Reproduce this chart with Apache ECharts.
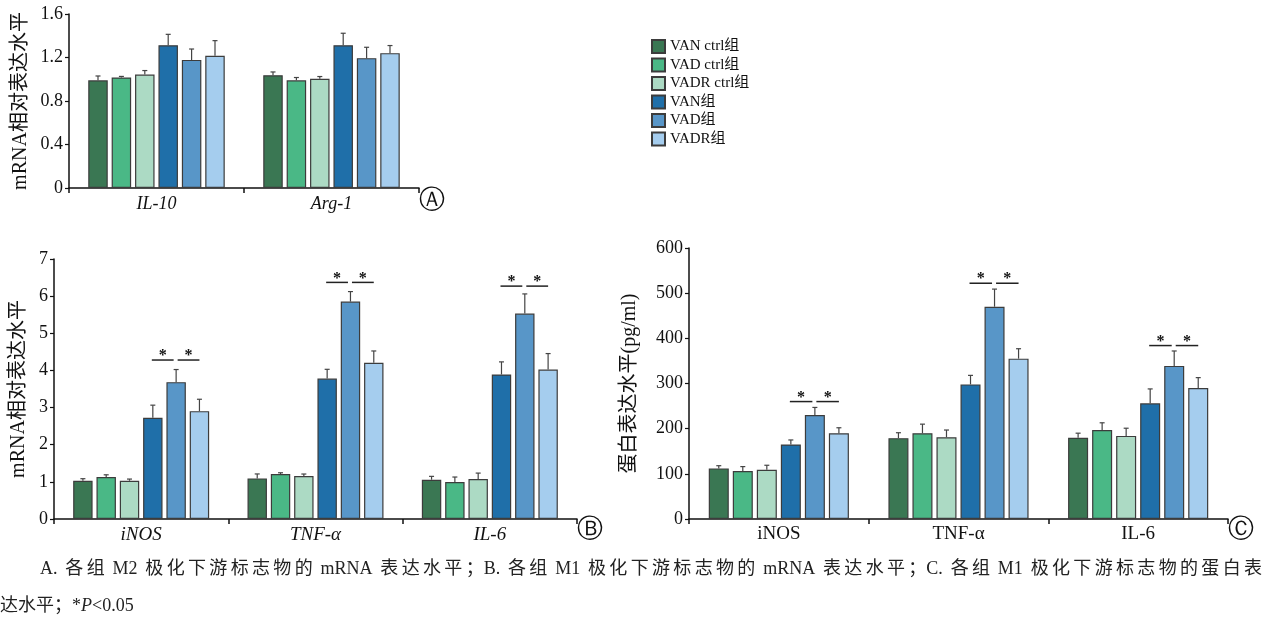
<!DOCTYPE html>
<html lang="zh">
<head>
<meta charset="utf-8">
<script src="https://cdn.jsdelivr.net/npm/echarts@6/dist/echarts.min.js"></script>
<style>
html,body{margin:0;padding:0;background:#fff;}
#chart{position:absolute;left:0;top:0;width:1264px;height:620px;}
.cap{position:absolute;font-family:'Liberation Serif','Noto Sans CJK SC',serif;font-size:18px;line-height:20px;color:#222;}
#cap1{left:40px;top:558px;width:1222px;text-align:justify;text-align-last:justify;}
#cap2{left:0;top:595px;white-space:nowrap;}
</style>
</head>
<body>
<div id="chart"></div>
<div class="cap" id="cap1">A.&#8197;各组&#8197;M2&#8197;极化下游标志物的&#8197;mRNA&#8197;表达水平；B.&#8197;各组&#8197;M1&#8197;极化下游标志物的&#8197;mRNA&#8197;表达水平；C.&#8197;各组&#8197;M1&#8197;极化下游标志物的蛋白表</div>
<div class="cap" id="cap2">达水平；*<i>P</i>&lt;0.05</div>
<script>
// ---------- data ----------
const groups = ['VAN ctrl组', 'VAD ctrl组', 'VADR ctrl组', 'VAN组', 'VAD组', 'VADR组'];

const catsA = ['IL-10', 'Arg-1'];
const meanA = [
  [0.99, 1.037],
  [1.016, 0.99],
  [1.043, 1.004],
  [1.313, 1.313],
  [1.178, 1.194],
  [1.215, 1.24]
];
const sdA = [
  [0.04, 0.03],
  [0.01, 0.026],
  [0.037, 0.021],
  [0.10, 0.11],
  [0.10, 0.10],
  [0.14, 0.07]
];

const catsB = ['iNOS', 'TNF-α', 'IL-6'];
const meanB = [
  [1.03, 1.093, 1.058],
  [1.13, 1.21, 0.995],
  [1.03, 1.156, 1.076],
  [2.725, 3.78, 3.89],
  [3.684, 5.853, 5.53],
  [2.904, 4.204, 4.024]
];
const sdB = [
  [0.055, 0.12, 0.09],
  [0.06, 0.035, 0.135],
  [0.045, 0.055, 0.16],
  [0.34, 0.25, 0.34],
  [0.34, 0.27, 0.53],
  [0.32, 0.32, 0.43]
];
const sigB = [4.28, 6.37, 6.27];

const catsC = ['iNOS', 'TNF-α', 'IL-6'];
const meanC = [
  [112, 179, 180],
  [106, 190, 197],
  [109, 181, 184],
  [165, 298, 256],
  [230, 470, 339],
  [190, 355, 290]
];
const sdC = [
  [6, 12, 10],
  [10, 20, 16],
  [10, 16, 17],
  [10, 20, 32],
  [17, 39, 33],
  [12, 22, 23]
];
const sigC = [260, 522, 384];

const yNameA = 'mRNA相对表达水平';
const yNameB = 'mRNA相对表达水平';
const yNameC = '蛋白表达水平(pg/ml)';

// ---------- style ----------
const COLORS = ['#3a7753', '#4ab886', '#acdac4', '#1f6fa9', '#5896c8', '#a5cdee'];
const FONT = "'Liberation Serif','Noto Sans CJK SC',serif";
const INK = '#111';
const CAT_GAP = 0.22, BAR_GAP = 0.20, N = groups.length;

function barX(api, cat, g) {
  const band = api.size([1, 0])[0];
  const bw = band * (1 - CAT_GAP) / (N + (N - 1) * BAR_GAP);
  return api.coord([cat, 0])[0] + (g - (N - 1) / 2) * bw * (1 + BAR_GAP);
}

function errRender(params, api) {
  const cat = api.value(0), g = api.value(1), m = api.value(2), sd = api.value(3);
  const x = barX(api, cat, g);
  const y0 = api.coord([cat, m])[1];
  const y1 = api.coord([cat, m + sd])[1];
  const st = { stroke: '#444', lineWidth: 1.2 };
  return {
    type: 'group',
    children: [
      { type: 'line', shape: { x1: x, y1: y0, x2: x, y2: y1 }, style: st },
      { type: 'line', shape: { x1: x - 2.5, y1: y1, x2: x + 2.5, y2: y1 }, style: st }
    ]
  };
}

function sigRender(params, api) {
  const cat = api.value(0), yv = api.value(1);
  const c4 = barX(api, cat, 3), c5 = barX(api, cat, 4), c6 = barX(api, cat, 5);
  const y = api.coord([cat, yv])[1];
  const segs = [[c4 - 1, c5 - 2.5], [c5 + 1.5, c6]];
  const children = [];
  segs.forEach(s => {
    children.push({ type: 'line', shape: { x1: s[0], y1: y, x2: s[1], y2: y }, style: { stroke: '#222', lineWidth: 1.5 } });
    children.push({ type: 'text', x: (s[0] + s[1]) / 2, y: y - 4,
      style: { text: '*', font: 'bold 16px "Liberation Serif"', fill: '#111', align: 'center', verticalAlign: 'middle' } });
  });
  return { type: 'group', children };
}

const grids = [
  { left: 69, top: 14, width: 350, height: 174 },
  { left: 54, top: 259, width: 523, height: 260 },
  { left: 689, top: 248, width: 539, height: 271 }
];

function xAxisCfg(idx, cats, italic, size, margin) {
  return {
    type: 'category', gridIndex: idx, data: cats,
    axisLine: { show: true, lineStyle: { color: INK, width: 1.5 } },
    axisTick: { show: true, length: 5, lineStyle: { color: INK, width: 1.5 } },
    axisLabel: { fontFamily: FONT, fontSize: size, fontStyle: italic ? 'italic' : 'normal', color: INK, margin: margin },
    splitLine: { show: false }
  };
}
function yAxisCfg(idx, max, interval, name, gap) {
  return {
    type: 'value', gridIndex: idx, min: 0, max: max, interval: interval,
    name: name, nameLocation: 'middle', nameGap: gap,
    nameTextStyle: { fontFamily: FONT, fontSize: 20, color: INK },
    axisLine: { show: true, lineStyle: { color: INK, width: 1.5 } },
    axisTick: { show: true, length: 4, lineStyle: { color: INK, width: 1.2 } },
    axisLabel: { fontFamily: FONT, fontSize: 18, color: INK, margin: 6 },
    splitLine: { show: false }
  };
}

const series = [];
function addChart(idx, means, sds, sig) {
  groups.forEach((name, g) => {
    series.push({
      type: 'bar', name: name, xAxisIndex: idx, yAxisIndex: idx,
      data: means[g], barCategoryGap: (CAT_GAP * 100) + '%', barGap: (BAR_GAP * 100) + '%',
      itemStyle: { color: COLORS[g], borderColor: '#3c3c3c', borderWidth: 1.2 },
      emphasis: { disabled: true }, z: 2
    });
  });
  const err = [];
  means.forEach((row, g) => row.forEach((v, c) => err.push([c, g, v, sds[g][c]])));
  series.push({
    type: 'custom', name: 'err' + idx, xAxisIndex: idx, yAxisIndex: idx,
    renderItem: errRender, data: err, encode: { x: 0, y: 2 }, z: 3, silent: true
  });
  if (sig) {
    series.push({
      type: 'custom', name: 'sig' + idx, xAxisIndex: idx, yAxisIndex: idx,
      renderItem: sigRender, data: sig.map((v, c) => [c, v]), encode: { x: 0, y: 1 }, z: 3, silent: true
    });
  }
}
addChart(0, meanA, sdA, null);
addChart(1, meanB, sdB, sigB);
addChart(2, meanC, sdC, sigC);

const chart = echarts.init(document.getElementById('chart'), null, { renderer: 'canvas' });
chart.setOption({
  animation: false,
  backgroundColor: '#fff',
  grid: grids,
  xAxis: [
    xAxisCfg(0, catsA, true, 18, 7),
    xAxisCfg(1, catsB, true, 19, 6),
    xAxisCfg(2, catsC, false, 19, 6)
  ],
  yAxis: [
    yAxisCfg(0, 1.6, 0.4, yNameA, 38),
    yAxisCfg(1, 7, 1, yNameB, 25),
    yAxisCfg(2, 600, 100, yNameC, 49)
  ],
  legend: {
    data: groups, orient: 'vertical', left: 651, top: 39, padding: 0,
    itemWidth: 13, itemHeight: 13, itemGap: 3.5, icon: 'rect', selectedMode: false,
    textStyle: { fontFamily: FONT, fontSize: 15, lineHeight: 15, color: INK }
  },
  graphic: [
    { type: 'text', x: 432, y: 201, style: { text: 'Ⓐ', font: '26px "DejaVu Sans"', fill: INK, align: 'center', verticalAlign: 'middle' } },
    { type: 'text', x: 590, y: 530, style: { text: 'Ⓑ', font: '26px "DejaVu Sans"', fill: INK, align: 'center', verticalAlign: 'middle' } },
    { type: 'text', x: 1241, y: 530, style: { text: 'Ⓒ', font: '26px "DejaVu Sans"', fill: INK, align: 'center', verticalAlign: 'middle' } }
  ],
  series: series
});
</script>
</body>
</html>
